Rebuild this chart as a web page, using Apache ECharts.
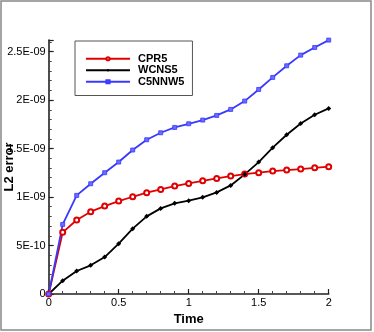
<!DOCTYPE html>
<html>
<head>
<meta charset="utf-8">
<script src="https://cdn.jsdelivr.net/npm/echarts@6/dist/echarts.min.js"></script>
<style>
  html, body { margin: 0; padding: 0; background: #fff; }
  #chart { width: 374px; height: 332px; }
</style>
</head>
<body>
<div id="chart"></div>
<script>
// time samples
const times = [0, 0.1, 0.2, 0.3, 0.4, 0.5, 0.6, 0.7, 0.8, 0.9, 1.0,
  1.1, 1.2, 1.3, 1.4, 1.5, 1.6, 1.7, 1.8, 1.9, 2.0];
// L2 error, in units of 1E-09
const cpr5 = [0, 0.636, 0.763, 0.849, 0.907, 0.959, 1.003, 1.045, 1.079, 1.113, 1.141,
  1.168, 1.192, 1.216, 1.237, 1.251, 1.268, 1.278, 1.289, 1.302, 1.313];
const wcns5 = [0, 0.137, 0.237, 0.296, 0.381, 0.519, 0.674, 0.801, 0.883, 0.935, 0.962,
  0.997, 1.048, 1.120, 1.234, 1.361, 1.509, 1.643, 1.759, 1.849, 1.914];
const c5nnw5 = [0, 0.718, 1.017, 1.137, 1.251, 1.361, 1.485, 1.591, 1.663, 1.718, 1.756,
  1.794, 1.842, 1.904, 1.990, 2.110, 2.234, 2.354, 2.464, 2.543, 2.619];
const yTickLabels = ['0', '5E-10', '1E-09', '1.5E-09', '2E-09', '2.5E-09'];
const xTickLabels = ['0', '0.5', '1', '1.5', '2'];

const chart = echarts.init(document.getElementById('chart'));

function pairs(ys) {
  return times.map((t, i) => [t, ys[i] * 1e-9]);
}

const axisCommon = {
  axisLine: { show: true, onZero: false, lineStyle: { color: '#222', width: 1.6 } },
  axisTick: { show: true, inside: true, length: 5, lineStyle: { color: '#222', width: 1.2 } },
  minorTick: { show: true, splitNumber: 5, length: 3, lineStyle: { color: '#444', width: 1 } },
  splitLine: { show: false },
  nameMoveOverlap: false,
  nameTextStyle: { fontFamily: 'Liberation Sans', fontWeight: 'bold', fontSize: 13, color: '#000' }
};

const option = {
  animation: false,
  backgroundColor: '#fff',
  graphic: [{
    type: 'rect',
    shape: { x: 1, y: 1, width: 370, height: 329 },
    style: { fill: 'none', stroke: '#888', lineWidth: 1.5 }
  }],
  grid: { left: 48.7, right: 45.3, top: 40, bottom: 38, containLabel: false, outerBoundsMode: 'none' },
  legend: {
    left: 75, top: 41, width: 114,
    orient: 'vertical',
    padding: [12, 8, 8, 10],
    itemGap: 0,
    itemWidth: 44, itemHeight: 4,
    borderColor: '#555', borderWidth: 1,
    textStyle: { fontFamily: 'Liberation Sans', fontWeight: 'bold', fontSize: 11, lineHeight: 11.5, color: '#000', padding: [0, 0, 0, 3] },
    data: ['CPR5', 'WCNS5', 'C5NNW5']
  },
  xAxis: Object.assign({}, axisCommon, {
    type: 'value', min: 0, max: 2, interval: 0.5,
    name: 'Time', nameLocation: 'middle', nameGap: 19,
    axisLabel: {
      fontFamily: 'Liberation Sans', fontSize: 11, color: '#000', margin: 3,
      formatter: v => xTickLabels[Math.round(v / 0.5)] || ''
    }
  }),
  yAxis: Object.assign({}, axisCommon, {
    type: 'value', min: 0, max: 2.62e-9, interval: 0.5e-9,
    name: 'L2 error', nameLocation: 'middle', nameGap: 33,
    axisLabel: {
      fontFamily: 'Liberation Sans', fontSize: 11, color: '#000', margin: 3,
      showMaxLabel: false,
      formatter: v => {
        const k = v / 0.5e-9;
        if (Math.abs(k - Math.round(k)) > 1e-6) return '';
        return yTickLabels[Math.round(k)] || '';
      }
    }
  }),
  series: [
    {
      name: 'CPR5', type: 'line', data: pairs(cpr5),
      symbol: 'emptyCircle', symbolSize: 5,
      lineStyle: { color: '#e00000', width: 1.8 },
      itemStyle: { color: '#e00000', borderWidth: 1 }
    },
    {
      name: 'WCNS5', type: 'line', data: pairs(wcns5),
      symbol: 'diamond', symbolSize: 5,
      lineStyle: { color: '#000', width: 1.8 },
      itemStyle: { color: '#000' }
    },
    {
      name: 'C5NNW5', type: 'line', data: pairs(c5nnw5),
      symbol: 'rect', symbolSize: 4,
      lineStyle: { color: '#3838ff', width: 1.8 },
      itemStyle: { color: '#6b6bff', borderColor: '#3838ff', borderWidth: 0.8 }
    }
  ]
};

chart.setOption(option);
</script>
</body>
</html>
